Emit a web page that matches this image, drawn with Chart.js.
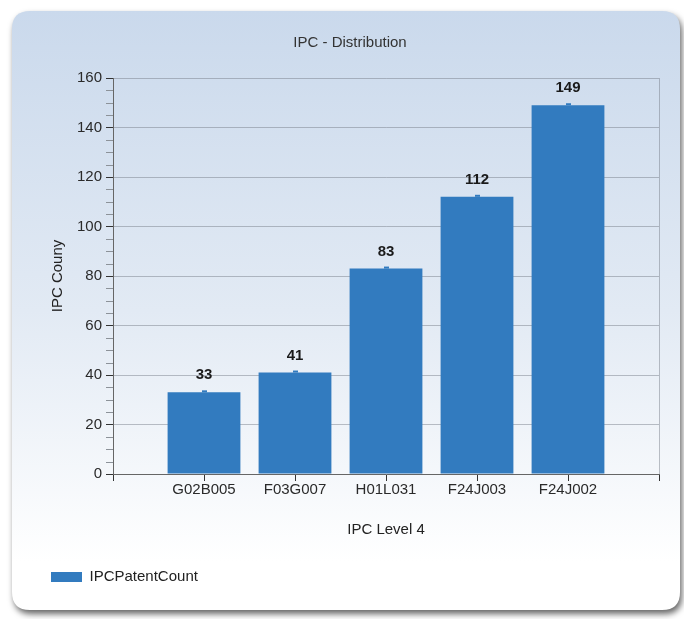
<!DOCTYPE html>
<html><head><meta charset="utf-8">
<script src="https://cdn.jsdelivr.net/npm/chart.js@4"></script>
<style>html,body{margin:0;padding:0;background:#fff;} #wrap{width:684px;height:619px;position:relative;}</style>
</head><body><div id="wrap"><canvas id="c"></canvas></div>
<script>
// ---- data ----
const categories = ['', 'G02B005', 'F03G007', 'H01L031', 'F24J003', 'F24J002', ''];
const patentCounts = [null, 33, 41, 83, 112, 149, null];
const seriesName = 'IPCPatentCount';
const chartTitle = 'IPC - Distribution';
const xAxisTitle = 'IPC Level 4';
const yAxisTitle = 'IPC Couny';
const yMin = 0, yMax = 160, yStep = 20, yMinorStep = 5;

// ---- styles ----
const FONT = "'Liberation Sans', Arial, sans-serif";
const barColor = '#327bbf';
const gridColor = 'rgba(110,118,128,0.45)';
const textColor = '#2a2a2a';

const panelPlugin = {
  id: 'panel',
  beforeDraw(chart) {
    const ctx = chart.ctx;
    const W = chart.width, H = chart.height;
    ctx.save();
    ctx.fillStyle = '#ffffff';
    ctx.fillRect(0, 0, W, H);
    const x = 12, y = 11, w = 668, h = 599, r = 18;
    ctx.beginPath();
    ctx.moveTo(x + r, y);
    ctx.lineTo(x + w - r, y);
    ctx.quadraticCurveTo(x + w, y, x + w, y + r);
    ctx.lineTo(x + w, y + h - r);
    ctx.quadraticCurveTo(x + w, y + h, x + w - r, y + h);
    ctx.lineTo(x + r, y + h);
    ctx.quadraticCurveTo(x, y + h, x, y + h - r);
    ctx.lineTo(x, y + r);
    ctx.quadraticCurveTo(x, y, x + r, y);
    ctx.closePath();
    const g = ctx.createLinearGradient(0, y, 0, y + h);
    g.addColorStop(0, '#cad9ec');
    g.addColorStop(0.5, '#e2eaf4');
    g.addColorStop(0.92, '#ffffff');
    g.addColorStop(1, '#ffffff');
    ctx.shadowColor = 'rgba(0,0,0,0.6)';
    ctx.shadowBlur = 6;
    ctx.shadowOffsetX = 2;
    ctx.shadowOffsetY = 4;
    ctx.fillStyle = g;
    ctx.fill();
    ctx.restore();
  }
};

const minorTickPlugin = {
  id: 'minorTicks',
  afterDraw(chart) {
    const s = chart.scales.y;
    const ctx = chart.ctx;
    const left = chart.chartArea.left;
    ctx.save();
    ctx.strokeStyle = '#8c9299';
    ctx.lineWidth = 1;
    for (let v = yMin; v <= yMax; v += yMinorStep) {
      if (v % yStep === 0) continue;
      const py = Math.round(s.getPixelForValue(v)) + 0.5;
      ctx.beginPath();
      ctx.moveTo(left - 7, py);
      ctx.lineTo(left, py);
      ctx.stroke();
    }
    ctx.restore();
  }
};

const valueLabelPlugin = {
  id: 'valueLabels',
  afterDatasetsDraw(chart) {
    const ctx = chart.ctx;
    const meta = chart.getDatasetMeta(0);
    const data = chart.data.datasets[0].data;
    ctx.save();
    meta.data.forEach((bar, i) => {
      const v = data[i];
      if (v === null || v === undefined) return;
      ctx.fillStyle = barColor;
      ctx.fillRect(Math.round(bar.x) - 2, bar.y - 2, 5, 2);
      ctx.fillStyle = '#1a1a1a';
      ctx.font = 'bold 15px ' + FONT;
      ctx.textAlign = 'center';
      ctx.textBaseline = 'middle';
      ctx.fillText(String(v), bar.x, bar.y - 17);
    });
    ctx.restore();
  }
};

new Chart(document.getElementById('c'), {
  type: 'bar',
  data: {
    labels: categories,
    datasets: [{
      label: seriesName,
      data: patentCounts,
      backgroundColor: barColor,
      borderWidth: 0,
      barPercentage: 0.8,
      categoryPercentage: 1.0
    }]
  },
  options: {
    responsive: true,
    maintainAspectRatio: false,
    animation: false,
    layout: { padding: { top: 10, left: 41, right: 25, bottom: 24.5 } },
    plugins: {
      title: {
        display: true, text: chartTitle, color: '#333',
        font: { family: FONT, size: 15, weight: 'normal' },
        padding: { top: 24, bottom: 26 }
      },
      legend: {
        display: true, position: 'bottom', align: 'start',
        labels: {
          boxWidth: 31, boxHeight: 10, padding: 10,
          color: '#222', font: { family: FONT, size: 15 }
        }
      },
      tooltip: { enabled: false }
    },
    scales: {
      x: {
        type: 'category', offset: false,
        grid: {
          display: true, drawOnChartArea: true, drawTicks: true, tickLength: 7, offset: false,
          color: c => (c.index === categories.length - 1 ? gridColor : 'rgba(0,0,0,0)'),
          tickColor: '#333'
        },
        border: { display: true, color: '#666' },
        ticks: { autoSkip: false, maxRotation: 0, minRotation: 0, padding: 0, color: textColor, font: { family: FONT, size: 15 } },
        title: { display: true, text: xAxisTitle, color: '#222', font: { family: FONT, size: 15 }, padding: { top: 0, bottom: 20.5 } },
        afterFit: s => { s.height = 85.5; }
      },
      y: {
        min: yMin, max: yMax,
        ticks: { stepSize: yStep, padding: 4, color: textColor, font: { family: FONT, size: 15 } },
        grid: { color: gridColor, tickColor: '#333', tickLength: 7 },
        border: { display: true, color: '#666' },
        title: { display: true, text: yAxisTitle, color: '#222', font: { family: FONT, size: 15 }, padding: { top: 8, bottom: 0 } },
        afterFit: s => { s.width = 72; }
      }
    }
  },
  plugins: [panelPlugin, minorTickPlugin, valueLabelPlugin]
});
</script>
</body></html>
